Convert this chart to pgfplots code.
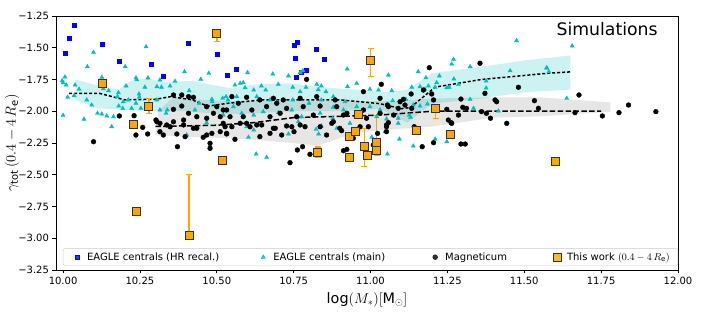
\documentclass[border=0pt]{standalone}
\usepackage{fontspec}
\setmainfont{DejaVu Sans}
\usepackage{pgfplots}
\pgfplotsset{compat=1.18}
\definecolor{mplc}{rgb}{0,0.75,0.75}
\definecolor{mplb}{rgb}{0,0,1}
\definecolor{mplorange}{HTML}{FFA500}
\definecolor{edgegray}{HTML}{333333}
\begin{document}
\begin{tikzpicture}
\useasboundingbox (-56pt,-48pt) rectangle (651pt,270pt);
\begin{axis}[
  at={(0pt,0pt)}, anchor=south west,
  scale only axis, width=622pt, height=254pt,
  xmin=9.977, xmax=12, ymin=-3.25, ymax=-1.25,
  xtick={10,10.25,10.5,10.75,11,11.25,11.5,11.75,12},
  xticklabels={10.00,10.25,10.50,10.75,11.00,11.25,11.50,11.75,12.00},
  ytick={-3.25,-3,-2.75,-2.5,-2.25,-2,-1.75,-1.5,-1.25},
  yticklabels={−3.25,−3.00,−2.75,−2.50,−2.25,−2.00,−1.75,−1.50,−1.25},
  tick align=outside, xtick pos=left, ytick pos=left,
  major tick length=3.5pt,
  every tick/.style={black, line width=0.8pt},
  axis line style={line width=0.8pt},
  ticklabel style={font=\fontsize{10}{12}\selectfont},
  xlabel={$\log(M_*)[\mathrm{M}_\odot]$},
  ylabel={$\gamma_{\rm tot}\,(0.4-4\,R_{\rm e})$},
  label style={font=\fontsize{14.4}{16}\selectfont},
  xlabel style={at={(axis description cs:0.5,-0.118)}, anchor=center},
  ylabel style={at={(axis description cs:-0.0707,0.5)}, anchor=center},
  legend style={at={(0.5056,0.016)}, anchor=south, legend columns=4,
    draw=black!20, rounded corners=2pt, fill=white, fill opacity=0.8, text opacity=1,
    font=\fontsize{10}{12}\selectfont, inner xsep=6pt, inner ysep=2pt,
    nodes={inner sep=2pt},
    /tikz/column 2/.style={column sep=34pt},
    /tikz/column 4/.style={column sep=40pt},
    /tikz/column 6/.style={column sep=40pt}},
  legend cell align=left,
  legend image code/.code={\path[draw=none, fill=none] (0pt,-4pt) rectangle (16pt,4pt); \draw[#1] plot coordinates {(8pt,0pt)};},
]
% bands
\addplot[forget plot, draw=none, fill=mplc, fill opacity=0.2] coordinates {
(10.04,-1.75) (10.1,-1.79) (10.18,-1.83) (10.22,-1.76) (10.27,-1.74) (10.33,-1.77)
(10.42,-1.76) (10.5,-1.80) (10.55,-1.82) (10.62,-1.79) (10.74,-1.78) (10.83,-1.81)
(10.95,-1.83) (11.06,-1.85) (11.12,-1.83) (11.2,-1.70) (11.36,-1.65) (11.5,-1.60) (11.65,-1.56)
(11.65,-1.83) (11.5,-1.85) (11.36,-1.90) (11.2,-1.94) (11.12,-2.09) (11.03,-1.98)
(10.9,-2.0) (10.75,-2.0) (10.6,-2.02) (10.5,-2.02) (10.4,-2.0) (10.3,-2.0)
(10.2,-1.99) (10.11,-1.975) (10.04,-1.91)} -- cycle;
\addplot[forget plot, draw=none, fill=gray, fill opacity=0.2] coordinates {
(10.30,-2.19) (10.31,-2.0) (10.36,-1.885) (10.45,-1.91) (10.55,-1.92) (10.7,-1.92)
(10.9,-1.92) (11.05,-1.92) (11.2,-1.90) (11.4,-1.89) (11.55,-1.89) (11.78,-1.93)
(11.78,-2.005) (11.55,-2.04) (11.4,-2.05) (11.2,-2.12) (11.03,-2.15) (10.95,-2.17)
(10.83,-2.27) (10.7,-2.24) (10.6,-2.22) (10.5,-2.21) (10.4,-2.2)} -- cycle;
% EAGLE HR recal
\addplot[only marks, mark=square*, mark size=2pt, color=mplb] coordinates {
(10.036,-1.32) (10.02,-1.426) (10.008,-1.539) (10.127,-1.47) (10.182,-1.604)
(10.287,-1.63) (10.326,-1.725) (10.407,-1.465) (10.50,-1.549) (10.534,-1.72)
(10.562,-1.667) (10.751,-1.481) (10.763,-1.455) (10.822,-1.51) (10.754,-1.58)
(10.848,-1.59) (10.79,-1.673) (10.774,-1.696) (10.758,-1.728)};
\addlegendentry{EAGLE centrals (HR recal.)}
% EAGLE main
\addplot[only marks, mark=triangle*, mark size=2.4pt, color=mplc] coordinates {
(9.997,-1.76) (10.006,-1.73) (10.0,-1.775) (10.015,-1.89) (10.036,-1.877) (10.0,-2.032)
(10.039,-1.793) (10.052,-1.827) (10.099,-1.536) (10.079,-1.649) (10.27,-1.492) (10.202,-1.649)
(10.395,-1.689) (10.474,-1.701) (10.237,-1.738) (10.240,-1.752) (10.276,-1.738) (10.126,-1.733)
(10.131,-1.822) (10.148,-1.838) (10.18,-1.854) (10.205,-1.801) (10.247,-1.864) (10.266,-1.81)
(10.315,-1.754) (10.305,-1.806) (10.32,-1.81) (10.348,-1.801) (10.364,-1.764) (10.41,-1.838)
(10.448,-1.748) (10.484,-1.906) (10.519,-1.898) (10.536,-1.911) (10.112,-2.016) (10.126,-2.022)
(10.142,-2.037) (10.164,-2.043) (10.068,-2.063) (10.158,-2.122) (10.181,-1.959) (10.212,-1.911)
(10.248,-1.89) (10.237,-1.937) (10.177,-1.885) (10.305,-1.911) (10.315,-1.99) (10.339,-1.99)
(10.335,-2.016) (10.429,-1.99) (10.443,-1.937) (10.485,-1.925) (10.194,-1.977) (10.223,-1.977)
(10.253,-1.977) (10.196,-1.925) (10.077,-1.911) (10.093,-1.951) (10.01,-1.793)
(10.6,-1.696) (10.682,-1.707) (10.733,-1.722) (10.771,-1.696) (10.78,-1.68) (10.924,-1.667)
(11.058,-1.715) (10.559,-1.793) (10.576,-1.78) (10.586,-1.775) (10.592,-1.814) (10.62,-1.833)
(10.645,-1.801) (10.659,-1.833) (10.7,-1.788) (10.747,-1.811) (10.771,-1.846) (10.79,-1.811)
(10.825,-1.788) (10.84,-1.801) (10.855,-1.846) (10.83,-1.83) (10.879,-1.885) (10.925,-1.806)
(10.955,-1.78) (10.998,-1.827) (11.026,-1.833) (10.565,-1.885) (10.53,-1.885) (10.63,-1.885)
(10.64,-1.911) (10.673,-1.911) (10.695,-1.925) (10.747,-1.911) (10.8,-1.937) (10.84,-1.911)
(10.917,-1.925) (10.879,-1.969) (10.912,-1.99) (10.955,-1.964) (10.998,-1.964) (11.031,-1.99)
(10.521,-2.03) (10.554,-1.964) (10.581,-2.016) (10.62,-2.03) (10.651,-2.003) (10.7,-2.011)
(10.744,-1.99) (10.776,-2.043) (10.836,-2.016) (10.877,-2.055) (10.933,-2.095) (10.966,-2.03)
(11.02,-2.043) (11.052,-2.061) (10.597,-2.122) (10.62,-2.148) (10.603,-2.205) (10.628,-2.337)
(10.662,-2.363) (10.733,-2.179) (10.765,-2.083) (10.823,-2.142) (10.831,-2.179) (10.84,-2.116)
(10.89,-2.134) (11.004,-2.205) (11.055,-2.337) (10.402,-2.187) (10.478,-2.266) (10.467,-2.09)
(11.09,-2.095) (11.047,-2.161) (11.094,-2.219) (11.139,-2.274) (11.21,-2.219) (11.248,-2.24)
(11.475,-1.444) (11.27,-1.591) (11.264,-1.628) (11.155,-1.689) (11.18,-1.736) (11.224,-1.722)
(11.324,-1.649) (11.454,-1.681) (11.573,-1.66) (11.134,-1.811) (11.161,-1.806) (11.177,-1.827)
(11.188,-1.801) (11.21,-1.811) (11.215,-1.775) (11.248,-1.814) (11.256,-1.811) (11.271,-1.746)
(11.286,-1.788) (11.376,-1.762) (11.376,-1.817) (11.069,-1.838) (11.115,-1.906) (11.072,-1.917)
(11.139,-1.951) (11.161,-1.959) (11.185,-1.943) (11.324,-1.906) (11.335,-1.977) (11.416,-1.998)
(11.126,-2.03) (11.13,-2.048) (11.09,-2.055) (11.656,-1.486) (11.573,-1.657) (11.58,-1.689)
(11.638,-1.898)};
\addlegendentry{EAGLE centrals (main)}
% Magneticum
\addplot[only marks, mark=*, mark size=2.4pt, color=black] coordinates {
(10.183,-2.037) (10.231,-2.035) (10.259,-2.127) (10.302,-2.069) (10.337,-2.108) (10.359,-1.872)
(10.386,-1.872) (10.408,-1.885) (10.424,-1.89) (10.359,-1.985) (10.386,-1.959) (10.408,-2.016)
(10.435,-2.043) (10.467,-1.964) (10.489,-2.016) (10.5,-1.964) (10.511,-2.043) (10.532,-1.99)
(10.467,-2.055) (10.521,-2.095) (10.315,-2.095) (10.392,-2.069) (10.348,-2.122) (10.435,-2.134)
(10.237,-2.187) (10.275,-2.179) (10.099,-2.24) (10.372,-2.279) (10.315,-2.161) (10.326,-2.187)
(10.37,-2.179) (10.397,-2.2) (10.392,-2.108) (10.424,-2.134) (10.456,-2.205) (10.467,-2.187)
(10.484,-2.174) (10.478,-2.252) (10.478,-2.292) (10.511,-2.161) (10.532,-2.179) (10.305,-2.083)
(10.359,-2.083) (10.792,-1.749) (11.035,-1.788) (10.549,-1.885) (10.597,-1.89) (10.64,-1.911)
(10.684,-1.898) (10.716,-1.911) (10.771,-1.898) (10.825,-1.885) (10.885,-1.911) (10.977,-1.846)
(11.031,-1.898) (10.521,-1.99) (10.57,-1.937) (10.614,-1.99) (10.662,-1.964) (10.695,-1.937)
(10.727,-1.977) (10.781,-1.964) (10.836,-1.959) (10.89,-1.964) (10.923,-2.016) (10.977,-1.99)
(11.058,-1.964) (10.543,-2.043) (10.586,-2.043) (10.673,-2.043) (10.706,-2.016) (10.76,-2.043)
(10.814,-2.03) (10.874,-2.095) (10.912,-2.03) (10.987,-2.055) (11.031,-2.016) (10.527,-2.122)
(10.576,-2.095) (10.63,-2.108) (10.684,-2.134) (10.727,-2.116) (10.771,-2.108) (10.836,-2.122)
(10.9,-2.134) (10.966,-2.122) (11.052,-2.108) (10.532,-2.174) (10.559,-2.221) (10.549,-2.122)
(10.597,-2.095) (10.608,-2.122) (10.64,-2.2) (10.646,-2.108) (10.673,-2.174) (10.69,-2.134)
(10.711,-2.187) (10.744,-2.122) (10.751,-2.161) (10.787,-2.122) (10.762,-2.305) (10.779,-2.279)
(10.803,-2.339) (10.738,-2.405) (10.857,-2.187) (10.879,-2.083) (10.906,-2.153) (10.912,-2.311)
(10.923,-2.3) (10.944,-2.213) (10.993,-2.122) (11.023,-2.174) (11.052,-2.122) (11.009,-2.266)
(11.191,-1.657) (11.356,-1.622) (11.481,-1.811) (11.199,-1.864) (11.132,-1.864) (11.172,-1.833)
(11.372,-1.859) (11.055,-1.951) (11.075,-2.03) (11.09,-1.977) (11.112,-1.951) (11.096,-1.925)
(11.107,-1.906) (11.134,-1.977) (11.294,-1.904) (11.248,-1.985) (11.30,-1.969) (11.312,-1.977)
(11.286,-2.03) (11.361,-2.003) (11.377,-2.016) (11.39,-2.055) (11.405,-1.911) (11.41,-1.925)
(11.533,-1.917) (11.546,-1.977) (11.253,-2.069) (11.264,-2.095) (11.443,-2.095) (11.205,-1.911)
(11.058,-2.09) (11.052,-2.161) (11.142,-2.122) (11.168,-2.279) (11.205,-2.248) (11.262,-2.09)
(11.294,-2.258) (11.308,-2.258) (11.678,-1.872) (11.839,-1.951) (11.808,-2.011) (11.754,-2.037)
(11.928,-2.003) (11.665,-2.011)};
\addlegendentry{Magneticum}
% medians
\addplot[forget plot, black, line width=1.5pt, dash pattern=on 3pt off 2pt] coordinates {
(10.02,-1.86) (10.12,-1.86) (10.2,-1.91) (10.3,-1.906) (10.35,-1.885) (10.42,-1.91)
(10.47,-1.96) (10.54,-1.936) (10.65,-1.91) (10.75,-1.91) (10.9,-1.91) (11.03,-1.94)
(11.1,-1.98) (11.13,-1.97) (11.19,-1.85) (11.21,-1.81) (11.36,-1.75) (11.58,-1.70) (11.65,-1.69)};
\addplot[forget plot, black, line width=1.5pt, dash pattern=on 5.5pt off 2.4pt] coordinates {
(10.30,-2.12) (10.5,-2.11) (10.62,-2.09) (10.75,-2.05) (10.9,-2.04) (11.03,-2.03)
(11.2,-2.0) (11.5,-2.0) (11.75,-2.0)};
% This work
\addplot[only marks, mark=square*, mark size=4pt,
  mark options={fill=mplorange, draw=edgegray, line width=1pt},
  error bars/.cd, y dir=both, y explicit,
  error bar style={mplorange, line width=1.5pt},
  error mark options={rotate=90, mark size=3pt, line width=1.2pt, mplorange}]
  table[x=x, y=y, y error plus=ep, y error minus=em] {
x y ep em
10.128 -1.78 0.02 0.02
10.229 -2.103 0.03 0.03
10.24 -2.79 0.01 0.01
10.279 -1.964 0.064 0.056
10.41 -2.98 0.48 0.02
10.50 -1.386 0.02 0.066
10.519 -2.389 0.02 0.02
10.829 -2.321 0.04 0.04
10.93 -2.20 0.02 0.02
10.93 -2.363 0.03 0.03
10.95 -2.16 0.02 0.02
10.96 -2.022 0.02 0.02
10.98 -2.279 0.145 0.158
10.99 -2.352 0.02 0.02
11.0 -1.604 0.10 0.12
11.02 -2.245 0.21 0.10
11.02 -2.313 0.02 0.02
11.15 -2.15 0.03 0.02
11.212 -1.977 0.02 0.08
11.261 -2.187 0.02 0.02
11.60 -2.397 0.02 0.02
};
\addlegendentry{This work $(0.4-4\,R_{\rm e})$}
\node[font=\fontsize{17.28}{20}\selectfont] at (rel axis cs:0.886,0.949) {Simulations};
\end{axis}
\end{tikzpicture}
\end{document}
